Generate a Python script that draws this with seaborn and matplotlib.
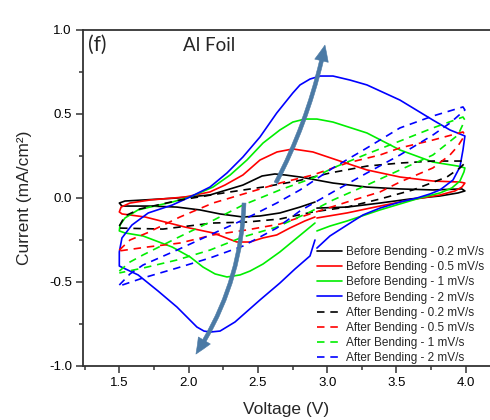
import matplotlib
matplotlib.use("Agg")
import matplotlib.pyplot as plt
from matplotlib.ticker import MultipleLocator, FormatStrFormatter
import numpy as np
import pandas as pd
import seaborn as sns

# ---------------- data ----------------
# Before bending, 0.2 mV/s (black, solid)
b02_v = [2.926, 3.143, 3.381, 3.597, 3.814, 3.944, 3.994, 3.972, 3.763, 3.525, 3.287, 3.042, 2.804,
         2.696, 2.623, 2.530, 2.392, 2.154, 1.916, 1.671, 1.541, 1.500, 1.519, 1.722, 1.916, 2.082,
         2.227, 2.392, 2.515, 2.659, 2.804, 2.912]
b02_i = [-0.060, -0.054, -0.030, -0.006, 0.012, 0.030, 0.042, 0.054, 0.048, 0.054, 0.065, 0.089, 0.125,
         0.137, 0.143, 0.131, 0.077, 0.018, 0.000, -0.012, -0.018, -0.030, -0.048, -0.048, -0.054, -0.071,
         -0.095, -0.113, -0.107, -0.089, -0.054, -0.024]

# Before bending, 0.5 mV/s (red, solid)
b05_v = [2.926, 3.143, 3.381, 3.597, 3.814, 3.922, 3.972, 3.994, 3.958, 3.763, 3.525, 3.287, 3.092,
         2.897, 2.752, 2.638, 2.515, 2.392, 2.262, 2.154, 1.974, 1.721, 1.577, 1.513, 1.500, 1.520,
         1.686, 1.974, 2.177, 2.348, 2.443, 2.535, 2.636, 2.730, 2.838, 2.912]
b05_i = [-0.119, -0.089, -0.048, -0.012, 0.018, 0.042, 0.065, 0.089, 0.095, 0.101, 0.125, 0.167, 0.220,
         0.274, 0.292, 0.274, 0.226, 0.137, 0.077, 0.036, 0.006, -0.012, -0.030, -0.054, -0.083, -0.095,
         -0.113, -0.173, -0.208, -0.262, -0.262, -0.238, -0.220, -0.179, -0.137, -0.113]

# Before bending, 1 mV/s (green, solid)
b1_v = [2.926, 3.020, 3.143, 3.381, 3.669, 3.814, 3.900, 3.958, 3.987, 3.994, 3.944, 3.763, 3.525,
        3.287, 3.042, 2.926, 2.839, 2.752, 2.659, 2.537, 2.421, 2.300, 2.176, 2.010, 1.882, 1.722,
        1.635, 1.541, 1.505, 1.500, 1.541, 1.671, 1.882, 2.011, 2.104, 2.191, 2.277, 2.371, 2.443,
        2.537, 2.659, 2.781, 2.912]
b1_i = [-0.196, -0.167, -0.137, -0.071, 0.000, 0.030, 0.060, 0.101, 0.155, 0.179, 0.190, 0.214, 0.286,
        0.387, 0.452, 0.470, 0.470, 0.452, 0.405, 0.327, 0.226, 0.137, 0.065, 0.006, -0.024, -0.054,
        -0.071, -0.119, -0.161, -0.196, -0.208, -0.226, -0.292, -0.351, -0.411, -0.452, -0.470, -0.458,
        -0.435, -0.393, -0.321, -0.238, -0.149]

# Before bending, 2 mV/s (blue, solid)
b2_v = [2.926, 3.020, 3.143, 3.258, 3.381, 3.525, 3.648, 3.742, 3.814, 3.908, 3.958, 3.980, 3.994,
        3.886, 3.763, 3.525, 3.287, 3.165, 3.042, 2.948, 2.876, 2.804, 2.752, 2.636, 2.515, 2.392,
        2.277, 2.154, 2.010, 1.882, 1.709, 1.591, 1.519, 1.500, 1.500, 1.636, 1.780, 1.916, 2.060,
        2.111, 2.154, 2.227, 2.335, 2.515, 2.659, 2.767, 2.876, 2.912]
b2_i = [-0.298, -0.226, -0.161, -0.101, -0.060, -0.024, 0.000, 0.024, 0.048, 0.107, 0.185, 0.286, 0.369,
        0.405, 0.464, 0.583, 0.673, 0.702, 0.726, 0.726, 0.708, 0.673, 0.625, 0.506, 0.363, 0.244,
        0.149, 0.065, 0.006, -0.042, -0.089, -0.161, -0.238, -0.321, -0.405, -0.458, -0.554, -0.649,
        -0.768, -0.792, -0.798, -0.792, -0.738, -0.607, -0.506, -0.423, -0.345, -0.250]

# After bending, 0.2 mV/s (black, dashed)
a02_v = [1.500, 1.541, 1.649, 1.938, 2.299, 2.537, 2.782, 3.020, 3.287, 3.525, 3.763, 3.980,
         3.994, 3.958, 3.864, 3.619, 3.381, 3.143, 2.897, 2.659, 2.421, 2.176, 1.815, 1.500]
a02_i = [-0.167, -0.107, -0.065, -0.012, 0.036, 0.065, 0.101, 0.149, 0.190, 0.208, 0.220, 0.220,
         0.208, 0.179, 0.125, 0.048, -0.006, -0.054, -0.083, -0.125, -0.143, -0.149, -0.185, -0.179]

# After bending, 0.5 mV/s (red, dashed)
a05_v = [1.500, 1.577, 1.700, 1.938, 2.176, 2.421, 2.659, 2.897, 3.143, 3.381, 3.525, 3.763, 3.980,
         3.994, 3.944, 3.886, 3.763, 3.525, 3.381, 3.143, 2.897, 2.659, 2.421, 2.176, 1.938, 1.700, 1.500]
a05_i = [-0.310, -0.250, -0.208, -0.113, -0.030, 0.030, 0.089, 0.137, 0.208, 0.256, 0.298, 0.345, 0.393,
         0.375, 0.310, 0.256, 0.179, 0.095, 0.036, -0.024, -0.089, -0.155, -0.190, -0.220, -0.268, -0.292, -0.315]

# After bending, 1 mV/s (green, dashed)
a1_v = [1.500, 1.577, 1.671, 1.916, 2.154, 2.392, 2.659, 2.897, 3.042, 3.287, 3.525, 3.763, 3.980,
        3.994, 3.944, 3.763, 3.525, 3.287, 3.042, 2.876, 2.636, 2.392, 2.154, 1.916, 1.671, 1.500]
a1_i = [-0.435, -0.381, -0.339, -0.238, -0.143, -0.042, 0.048, 0.119, 0.179, 0.262, 0.339, 0.417, 0.482,
        0.464, 0.375, 0.256, 0.167, 0.077, -0.012, -0.083, -0.173, -0.232, -0.310, -0.369, -0.417, -0.446]

# After bending, 2 mV/s (blue, dashed)
a2_v = [1.500, 1.577, 1.671, 1.916, 2.154, 2.392, 2.636, 2.804, 3.042, 3.287, 3.525, 3.763, 3.980,
        3.994, 3.886, 3.763, 3.525, 3.287, 3.042, 2.804, 2.636, 2.392, 2.154, 1.916, 1.671, 1.500]
a2_i = [-0.518, -0.452, -0.399, -0.310, -0.220, -0.131, -0.030, 0.048, 0.179, 0.298, 0.417, 0.488, 0.542,
        0.524, 0.446, 0.375, 0.256, 0.149, 0.036, -0.077, -0.179, -0.286, -0.357, -0.417, -0.476, -0.524]

series_labels = [
    "Before Bending - 0.2 mV/s", "Before Bending - 0.5 mV/s",
    "Before Bending - 1 mV/s", "Before Bending - 2 mV/s",
    "After Bending - 0.2 mV/s", "After Bending - 0.5 mV/s",
    "After Bending - 1 mV/s", "After Bending - 2 mV/s",
]
series_v = [b02_v, b05_v, b1_v, b2_v, a02_v, a05_v, a1_v, a2_v]
series_i = [b02_i, b05_i, b1_i, b2_i, a02_i, a05_i, a1_i, a2_i]

x_ticks = [1.5, 2.0, 2.5, 3.0, 3.5, 4.0]
y_ticks = [-1.0, -0.5, 0.0, 0.5, 1.0]

# ---------------- styling ----------------
line_colors = ["#000000", "#ff0000", "#00ee00", "#0000ff"] * 2
palette = dict(zip(series_labels, line_colors))
dashes = {lab: ("" if lab.startswith("Before") else (4.5, 3.5)) for lab in series_labels}

frames = []
for lab, v, i in zip(series_labels, series_v, series_i):
    frames.append(pd.DataFrame({"Voltage": v, "Current": i, "series": lab}))
df = pd.concat(frames, ignore_index=True)

sns.set_style("ticks")
plt.rcParams["font.family"] = ["Liberation Sans", "DejaVu Sans"]
plt.rcParams["axes.unicode_minus"] = False

W, H = 490, 420
fig = plt.figure(figsize=(W / 100, H / 100), dpi=100)
ax = fig.add_axes([83 / W, 54 / H, 1 - 83 / W, 336 / H])

sns.lineplot(data=df, x="Voltage", y="Current", hue="series", style="series",
             hue_order=series_labels, style_order=series_labels,
             palette=palette, dashes=dashes, sort=False, estimator=None,
             linewidth=1.2, ax=ax)

ax.set_xlim(1.238, 4.175)
ax.set_ylim(-1.0, 1.0)
ax.set_xticks(x_ticks)
ax.set_yticks(y_ticks)
ax.xaxis.set_minor_locator(MultipleLocator(0.25))
ax.yaxis.set_minor_locator(MultipleLocator(0.25))
ax.yaxis.set_major_formatter(FormatStrFormatter("%.1f"))
ax.xaxis.set_major_formatter(FormatStrFormatter("%.1f"))
ax.tick_params(axis="both", which="major", direction="out", length=5, width=1.1,
               labelsize=9.5, colors="#333333", labelcolor="black", pad=3)
ax.tick_params(axis="both", which="minor", direction="out", length=3, width=1.1, colors="#333333")
ax.tick_params(top=False, right=False)

for s in ["left", "bottom", "top"]:
    ax.spines[s].set_visible(True)
    ax.spines[s].set_color("#333333")
    ax.spines[s].set_linewidth(1.3)
ax.spines["right"].set_visible(False)

ax.set_xlabel("Voltage (V)", fontsize=12.5, labelpad=9)
ax.set_ylabel("Current (mA/cm²)", fontsize=12.5, labelpad=12)

ax.text(0.012, 0.985, "(f)", transform=ax.transAxes, ha="left", va="top",
        fontsize=15, family=["Lato", "DejaVu Sans"])
ax.text(0.246, 0.978, "Al Foil", transform=ax.transAxes, ha="left", va="top",
        fontsize=13.5, family=["Lato", "DejaVu Sans"])

arrow_color = "#4b7aa5"
arrow_style = "simple,head_length=1.15,head_width=1.0,tail_width=0.28"
ax.annotate("", xy=(2.984, 0.91), xytext=(2.63, 0.09),
            arrowprops=dict(arrowstyle=arrow_style, connectionstyle="arc3,rad=0.07",
                            facecolor=arrow_color, edgecolor=arrow_color, linewidth=0.4,
                            mutation_scale=10, shrinkA=0, shrinkB=0))
ax.annotate("", xy=(2.053, -0.929), xytext=(2.40, -0.03),
            arrowprops=dict(arrowstyle=arrow_style, connectionstyle="arc3,rad=-0.14",
                            facecolor=arrow_color, edgecolor=arrow_color, linewidth=0.4,
                            mutation_scale=10, shrinkA=0, shrinkB=0))

handles, labels = ax.get_legend_handles_labels()
ax.legend(handles, labels, loc="upper left", bbox_to_anchor=(317 / W, 1 - 246 / H),
          bbox_transform=fig.transFigure, frameon=False, fontsize=8.5,
          handlelength=2.15, handletextpad=0.3, labelspacing=0.27,
          borderpad=0, borderaxespad=0)

fig.savefig("out.png", dpi=100)
